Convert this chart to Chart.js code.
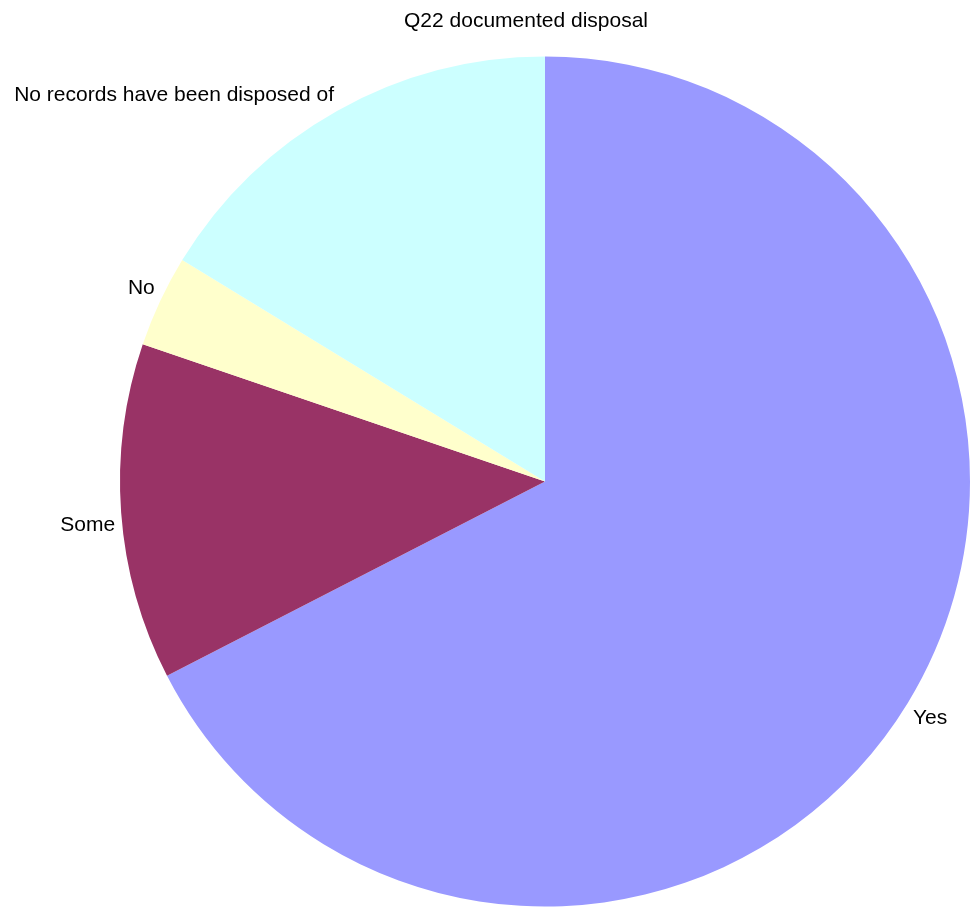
<!DOCTYPE html>
<html>
<head>
<meta charset="utf-8">
<title>Q22 documented disposal</title>
<script src="https://cdn.jsdelivr.net/npm/chart.js@4/dist/chart.umd.min.js"></script>
<style>
    html, body { margin: 0; padding: 0; background: #ffffff; }
    #wrap { width: 970px; height: 910px; }
</style>
</head>
<body>
<div id="wrap"><canvas id="pieChart" width="970" height="910"></canvas></div>
<script>
// Chart data
const chartTitle = 'Q22 documented disposal';
const categories = ['Yes', 'Some', 'No', 'No records have been disposed of'];
const responses = [58, 11, 3, 14];

const sliceColors = ['#9999ff', '#993366', '#ffffcc', '#ccffff'];
const labelFont = '21px "Liberation Sans", Arial, sans-serif';

// Draws the title and the slice labels outside the pie
const outsideLabels = {
    id: 'outsideLabels',
    afterDatasetsDraw(chart) {
        const ctx = chart.ctx;
        const meta = chart.getDatasetMeta(0);
        ctx.save();
        ctx.font = labelFont;
        ctx.fillStyle = '#000000';

        ctx.textAlign = 'center';
        ctx.textBaseline = 'middle';
        ctx.fillText(chartTitle, 526, 21);

        meta.data.forEach(function (arc, i) {
            const mid = (arc.startAngle + arc.endAngle) / 2;
            const r = arc.outerRadius + 6;
            const ax = arc.x + Math.cos(mid) * r;
            const ay = arc.y + Math.sin(mid) * r;
            ctx.textAlign = Math.cos(mid) < 0 ? 'right' : 'left';
            ctx.textBaseline = Math.sin(mid) > 0 ? 'top' : 'bottom';
            ctx.fillText(categories[i], ax, ay + (Math.sin(mid) > 0 ? 2 : 0));
        });
        ctx.restore();
    }
};

const ctx = document.getElementById('pieChart').getContext('2d');
new Chart(ctx, {
    type: 'pie',
    data: {
        labels: categories,
        datasets: [{
            data: responses,
            backgroundColor: sliceColors,
            borderWidth: 0,
            offset: 0,
            hoverOffset: 0
        }]
    },
    options: {
        responsive: false,
        animation: false,
        events: [],
        layout: {
            padding: { left: 120, right: 0, top: 56, bottom: 3 }
        },
        plugins: {
            legend: { display: false },
            title: { display: false },
            tooltip: { enabled: false }
        }
    },
    plugins: [outsideLabels]
});
</script>
</body>
</html>
